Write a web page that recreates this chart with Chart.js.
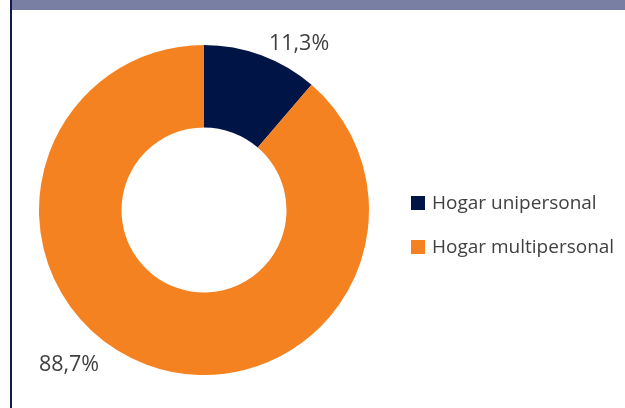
<!DOCTYPE html>
<html>
<head>
<meta charset="utf-8">
<script src="https://cdn.jsdelivr.net/npm/chart.js@4"></script>
<style>
  html, body { margin: 0; padding: 0; background: #fff; }
  #wrap { position: relative; width: 625px; height: 408px; overflow: hidden; }
  #band { position: absolute; left: 12px; top: 0; width: 613px; height: 10px; background: #787fa2; }
  #rule { position: absolute; left: 10px; top: 0; width: 2px; height: 408px; background: #0f1c4d; }
  canvas { position: absolute; left: 0; top: 0; }
</style>
</head>
<body>
<div id="wrap">
  <canvas id="c" width="625" height="408"></canvas>
  <div id="band"></div>
  <div id="rule"></div>
</div>
<script>
const categories = ["Hogar unipersonal", "Hogar multipersonal"];
const values = [11.3, 88.7];
const valueLabels = ["11,3%", "88,7%"];
const colors = ["#001446", "#f58220"];

const FONT = "'Open Sans', 'Noto Sans', sans-serif";

const labelPlugin = {
  id: 'labelsAndLegend',
  afterDraw(chart) {
    const ctx = chart.ctx;
    const meta = chart.getDatasetMeta(0);
    const arc = meta.data[0];
    const cx = arc.x, cy = arc.y, r = arc.outerRadius;
    ctx.save();
    ctx.fillStyle = '#404040';
    ctx.font = '21.5px ' + FONT;
    ctx.textAlign = 'center';
    ctx.textBaseline = 'middle';
    // value labels placed outside the ring
    const offs = [[0.576, -1.006], [-0.818, 0.939]];
    valueLabels.forEach((t, i) => {
      ctx.fillText(t, cx + offs[i][0] * r, cy + offs[i][1] * r);
    });
    // legend
    ctx.font = '19px ' + FONT;
    ctx.textAlign = 'left';
    const lx = 411, ly0 = 203, step = 44, box = 14;
    categories.forEach((c, i) => {
      const y = ly0 + i * step;
      ctx.fillStyle = colors[i];
      ctx.fillRect(lx, y - box / 2, box, box);
      ctx.fillStyle = '#404040';
      ctx.fillText(c, lx + 21, y + 1);
    });
    ctx.restore();
  }
};

new Chart(document.getElementById('c'), {
  type: 'doughnut',
  data: {
    labels: categories,
    datasets: [{
      data: values,
      backgroundColor: colors,
      borderWidth: 0,
      hoverOffset: 0
    }]
  },
  options: {
    responsive: false,
    animation: false,
    cutout: '50%',
    layout: { padding: { left: 39, top: 45, right: 256, bottom: 33 } },
    plugins: {
      legend: { display: false },
      tooltip: { enabled: false }
    }
  },
  plugins: [labelPlugin]
});
</script>
</body>
</html>
